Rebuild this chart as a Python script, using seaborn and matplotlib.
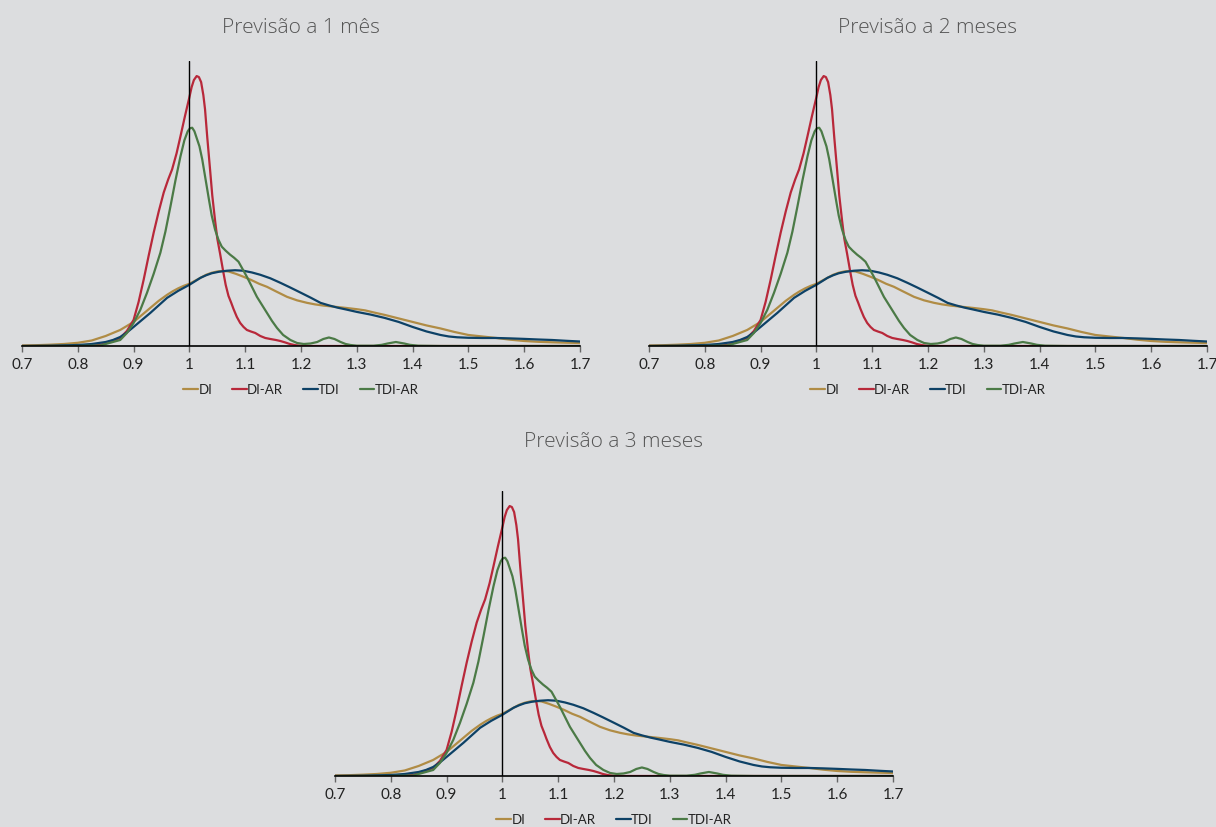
import numpy as np
import pandas as pd
import matplotlib
matplotlib.use("Agg")
import matplotlib.pyplot as plt
import seaborn as sns

# Densities (relative height units, y-axis is hidden).
# The three horizons show the same curves.
titles = ["Previsão a 1 mês", "Previsão a 2 meses", "Previsão a 3 meses"]
series = ["DI", "DI-AR", "TDI", "TDI-AR"]
colors = ["#b08c45", "#b8283a", "#0d4166", "#4b7a46"]

x_di = [0.70, 0.725, 0.75, 0.775, 0.80, 0.825, 0.85, 0.863, 0.876, 0.888, 0.90, 0.915,
        0.93, 0.945, 0.96, 0.97, 0.98, 0.99, 1.00, 1.01, 1.02, 1.03, 1.04, 1.05, 1.06,
        1.07, 1.083, 1.097, 1.11, 1.125, 1.139, 1.155, 1.175, 1.193, 1.211, 1.225, 1.24,
        1.259, 1.28, 1.30, 1.315, 1.33, 1.35, 1.375, 1.40, 1.425, 1.45, 1.475, 1.50,
        1.525, 1.55, 1.575, 1.60, 1.625, 1.65, 1.675, 1.70]
y_di = [0.5, 0.8, 1.3, 2, 3.2, 5.5, 10, 13, 16, 20, 24, 31,
        38, 45, 51, 54.5, 57.5, 60, 62, 65, 68, 71, 73, 74.3, 74.8,
        74.3, 72, 69, 66, 62, 59, 54.5, 49, 45.5, 43, 41.5, 40.3,
        39.2, 38, 36.7, 35.5, 33.5, 31, 27.5, 24, 20.5, 17.5, 14, 11,
        9.5, 8, 6.3, 5, 4.2, 3.7, 3.3, 3]

x_diar = [0.70, 0.80, 0.84, 0.876, 0.888, 0.90, 0.909, 0.918, 0.927, 0.936, 0.945, 0.954,
          0.962, 0.969, 0.977, 0.984, 0.992, 1.00, 1.004, 1.008, 1.013, 1.017, 1.021,
          1.025, 1.028, 1.032, 1.037, 1.041, 1.046, 1.050, 1.055, 1.061, 1.065, 1.07,
          1.075, 1.079, 1.085, 1.091, 1.097, 1.103, 1.11, 1.118, 1.127, 1.136, 1.145,
          1.155, 1.163, 1.172, 1.18, 1.19, 1.20, 1.21, 1.70]
y_diar = [0, 0, 1, 8, 15, 26, 44, 66, 90, 113, 134, 153,
          166, 176, 192, 209, 229, 248, 258, 265, 269, 268, 263,
          250, 236, 208, 176, 150, 125, 107, 92, 73, 61, 50,
          43, 37, 29, 23, 19, 16, 14.5, 13, 10, 8, 7,
          6, 5, 3.5, 2, 0.8, 0.2, 0, 0]

x_tdi = [0.70, 0.75, 0.80, 0.825, 0.85, 0.863, 0.876, 0.888, 0.90, 0.915, 0.93, 0.945,
         0.96, 0.97, 0.98, 0.99, 1.00, 1.01, 1.02, 1.03, 1.04, 1.053, 1.067, 1.082,
         1.097, 1.112, 1.127, 1.145, 1.163, 1.18, 1.20, 1.218, 1.235, 1.25, 1.265, 1.28,
         1.30, 1.325, 1.35, 1.375, 1.40, 1.425, 1.45, 1.465, 1.48, 1.50, 1.525, 1.55,
         1.575, 1.60, 1.625, 1.65, 1.675, 1.70]
y_tdi = [0, 0.3, 1, 2, 4, 6, 9, 13.5, 19, 26, 33, 40.5,
         48, 51.5, 55, 58, 61, 64.5, 68, 70.5, 72.5, 74, 75, 75.5,
         75, 73.3, 71, 67.5, 63, 58.5, 53, 48, 43, 40.5, 38.3, 36.5,
         34, 31.3, 28, 24, 19, 14.5, 11, 9.5, 8.7, 8.2, 8, 8,
         7.6, 7.1, 6.5, 6, 5.2, 4.5]

x_tdiar = [0.70, 0.80, 0.84, 0.876, 0.888, 0.90, 0.912, 0.924, 0.936, 0.948, 0.957, 0.966,
           0.975, 0.984, 0.991, 0.997, 1.001, 1.005, 1.009, 1.012, 1.018, 1.023, 1.029,
           1.035, 1.040, 1.046, 1.052, 1.058, 1.065, 1.073, 1.080, 1.088, 1.095, 1.103,
           1.112, 1.121, 1.130, 1.139, 1.148, 1.157, 1.168, 1.181, 1.193, 1.205, 1.217,
           1.229, 1.24, 1.25, 1.26, 1.271, 1.28, 1.289, 1.30, 1.33, 1.345, 1.355, 1.37,
           1.385, 1.395, 1.41, 1.45, 1.70]
y_tdiar = [0, 0, 0.5, 6, 13, 23, 36, 53, 72, 93, 114, 139,
           165, 189, 205, 214, 217, 217.5, 214, 209, 199, 186, 166,
           146, 130, 116, 106, 99, 95, 91, 88, 84, 77, 69,
           59, 49, 41, 33, 25, 18, 11, 6, 3, 2, 2.5,
           4, 7, 8.5, 7, 4, 2, 1, 0.3, 0.3, 1.2, 2.5, 4,
           2.5, 1.2, 0.3, 0, 0]

xs = [x_di, x_diar, x_tdi, x_tdiar]
ys = [y_di, y_diar, y_tdi, y_tdiar]
df = pd.concat([pd.DataFrame({"x": x, "y": y, "serie": s}) for x, y, s in zip(xs, ys, series)],
               ignore_index=True)

bg = "#dcdddf"
sns.set_theme(style="white")
plt.rcParams["font.family"] = ["Lato", "DejaVu Sans"]

fig = plt.figure(figsize=(12.16, 8.28), dpi=100, facecolor=bg)
boxes = [[22 / 1216, 0.5809, 558 / 1216, 0.3442],
         [649 / 1216, 0.5809, 558 / 1216, 0.3442],
         [335 / 1216, 0.0616, 558 / 1216, 0.3442]]
title_y = [1.12, 1.12, 1.176]

for box, title, ty in zip(boxes, titles, title_y):
    ax = fig.add_axes(box)
    ax.set_facecolor(bg)
    sns.lineplot(data=df, x="x", y="y", hue="serie", hue_order=series,
                 palette=colors, linewidth=1.6, ax=ax, sort=False)
    ax.axvline(1.0, color="black", linewidth=1)
    ax.set_xlim(0.7, 1.7)
    ax.set_ylim(0, 284)
    ax.set_xticks(np.arange(0.7, 1.71, 0.1))
    ax.set_xticklabels(["0.7", "0.8", "0.9", "1", "1.1", "1.2", "1.3", "1.4", "1.5", "1.6", "1.7"])
    ax.set_yticks([])
    ax.set_xlabel("")
    ax.set_ylabel("")
    for s in ["left", "top", "right"]:
        ax.spines[s].set_visible(False)
    ax.spines["bottom"].set_color("black")
    ax.spines["bottom"].set_linewidth(1.2)
    ax.tick_params(axis="x", bottom=True, direction="out", length=4, width=1,
                   color="#666666", labelsize=11, labelcolor="#222222", pad=4)
    ax.text(0.5, ty, title, transform=ax.transAxes, ha="center", va="center",
            fontsize=15, color="#555555", family="Open Sans", fontweight="light")
    ax.legend(loc="center", bbox_to_anchor=(0.5, -0.152), ncol=4, frameon=False,
              fontsize=9.5, handlelength=1.1, handletextpad=0.05, columnspacing=1.5,
              labelcolor="#222222")

fig.savefig("out.png", dpi=100, facecolor=bg)
